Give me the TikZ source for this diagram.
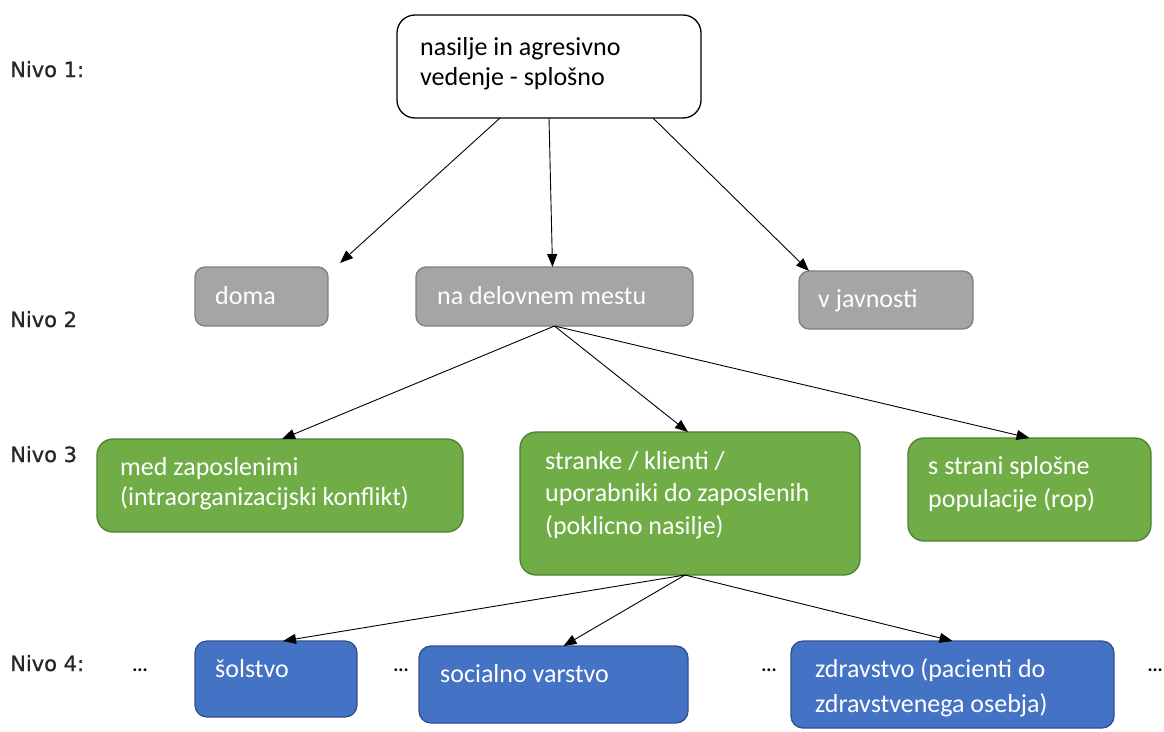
\documentclass[tikz,border=0pt]{standalone}
\usepackage{fontspec}
\setmainfont{Carlito}
\newfontfamily\nivofont[FakeBold=0.8]{DejaVu Sans}
\usetikzlibrary{arrows.meta}
\definecolor{grayfill}{HTML}{A5A5A5}
\definecolor{grayline}{HTML}{7F7F7F}
\definecolor{greenfill}{HTML}{70AD47}
\definecolor{greenline}{HTML}{507E32}
\definecolor{bluefill}{HTML}{4472C4}
\definecolor{blueline}{HTML}{2F528F}
\tikzset{
  box/.style={anchor=north west, inner sep=0pt, outer sep=0pt, line width=1.3pt},
  topbox/.style={box, draw=black, fill=white, rounded corners=18pt},
  graybox/.style={box, draw=grayline, fill=grayfill, rounded corners=10pt},
  greenbox/.style={box, draw=greenline, fill=greenfill, rounded corners=16pt},
  bluebox/.style={box, draw=blueline, fill=bluefill, rounded corners=12pt},
  txt/.style={anchor=base west, inner sep=0pt, align=left, font=\fontsize{26}{30}\selectfont},
  wtxt/.style={txt, text=white},
  nivo/.style={anchor=base west, inner sep=0pt, text=black!85, font=\nivofont\fontsize{21}{24}\selectfont},
  dots/.style={anchor=base, inner sep=0pt, font=\bfseries\fontsize{19}{20}\selectfont},
  arr/.style={-{Triangle[length=13pt,width=10pt]}, line width=0.9pt, black},
}
\begin{document}
\begin{tikzpicture}[x=1pt,y=-1pt]
\useasboundingbox (0,0) rectangle (1164,731);

% boxes
\node[topbox, minimum width=304pt, minimum height=103pt] (top) at (397,15) {};
\node[graybox, minimum width=133pt, minimum height=59pt] (doma) at (195,267) {};
\node[graybox, minimum width=277pt, minimum height=59pt] (na) at (416,267) {};
\node[graybox, minimum width=174pt, minimum height=58pt] (vj) at (799,271) {};
\node[greenbox, minimum width=366pt, minimum height=93pt] (g1) at (97,439) {};
\node[greenbox, minimum width=340pt, minimum height=143pt] (g2) at (520,432) {};
\node[greenbox, minimum width=243pt, minimum height=103pt] (g3) at (908,438) {};
\node[bluebox, minimum width=162pt, minimum height=76pt] (b1) at (195,641) {};
\node[bluebox, minimum width=269pt, minimum height=77pt] (b2) at (419,646) {};
\node[bluebox, minimum width=323pt, minimum height=87pt] (b3) at (791,641) {};

% texts (base anchor = baseline of the last line)
\node[txt] (ttop) at (420,85) {nasilje in agresivno\\vedenje - splošno};
\node[wtxt] (tdoma) at (215,304) {doma};
\node[wtxt] (tna) at (437,304) {na delovnem mestu};
\node[wtxt] (tvj) at (818,307) {v javnosti};
\node[wtxt] (tg1) at (120,505) {med zaposlenimi\\(intraorganizacijski konflikt)};
\node[wtxt, font=\fontsize{26}{32.5}\selectfont] (tg2) at (545,534) {stranke / klienti /\\uporabniki do zaposlenih\\(poklicno nasilje)};
\node[wtxt, font=\fontsize{26}{33}\selectfont] (tg3) at (928,507) {s strani splošne\\populacije (rop)};
\node[wtxt] (tb1) at (215,677) {šolstvo};
\node[wtxt] (tb2) at (440,682) {socialno varstvo};
\node[wtxt, font=\fontsize{26}{35}\selectfont] (tb3) at (815,712) {zdravstvo (pacienti do\\zdravstvenega osebja)};

% level labels
\node[nivo] (n1) at (10,77) {Nivo 1:};
\node[nivo] (n2) at (10,327) {Nivo 2};
\node[nivo] (n3) at (10,462) {Nivo 3};
\node[nivo] (n4) at (10,671) {Nivo 4:};

% dots
\node[dots] (d1) at (140,671) {...};
\node[dots] (d2) at (401,671) {...};
\node[dots] (d3) at (769,671) {...};
\node[dots, anchor=base east] (d4) at (1163,671) {...};

% arrows
\draw[arr] ([xshift=-49pt]top.south) -- ([xshift=12pt,yshift=4pt]doma.north east);
\draw[arr] (top.south) -- ([xshift=-2pt]na.north);
\draw[arr] ([xshift=104pt]top.south) -- ([xshift=10pt]vj.north west);
\draw[arr] (na.south) -- ([xshift=185pt]g1.north west);
\draw[arr] (na.south) -- ([xshift=-2pt]g2.north);
\draw[arr] (na.south) -- (g3.north);
\draw[arr] ([xshift=-5pt]g2.south) -- ([xshift=7pt]b1.north);
\draw[arr] ([xshift=-5pt]g2.south) -- ([xshift=10pt]b2.north);
\draw[arr] ([xshift=-5pt]g2.south) -- (b3.north);
\end{tikzpicture}
\end{document}
